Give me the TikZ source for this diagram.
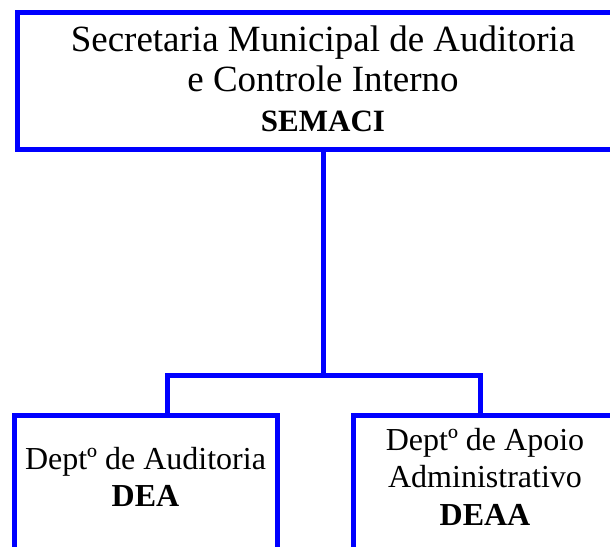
\documentclass[tikz,border=0pt]{standalone}
\usepackage{fontspec}
\setmainfont{Liberation Serif}
\begin{document}
\begin{tikzpicture}[
		x=1pt, y=1pt,
		every node/.style = {shape=rectangle,
			draw=blue, line width=5pt, align=center, inner sep=0pt},
		head/.style = {minimum width=611pt, minimum height=136.5pt, anchor=north,
			text depth=6pt, font=\fontsize{37}{40}\selectfont},
		dept/.style = {minimum width=263pt, minimum height=200pt, anchor=north,
			text depth=78.5pt, font=\fontsize{32}{37.5}\selectfont},
		link/.style = {draw=blue, line width=5pt, line join=miter},
		]
		\useasboundingbox (0,0) rectangle (610,546);
		\clip (0,0) rectangle (610,546);
		
		\node[head] (semaci) at (323,535.5) {Secretaria Municipal de Auditoria\\
			e Controle Interno\\ {\fontsize{31}{40}\selectfont\bfseries SEMACI}};
		\node[dept] (dea) at (145.5,132.5) {Deptº de Auditoria\\ \textbf{DEA}};
		\node[dept] (deaa) at (485,132.5) {Deptº de Apoio\\ Administrativo\\ \textbf{DEAA}};
		
		% branches
		\coordinate (split) at (323,170.5);
		\draw[link] (semaci.south) -- (split);
		\draw[link] ([xshift=21.5pt]dea.north) |- (split) -| ([xshift=-5pt]deaa.north);
		\end{tikzpicture}
\end{document}
